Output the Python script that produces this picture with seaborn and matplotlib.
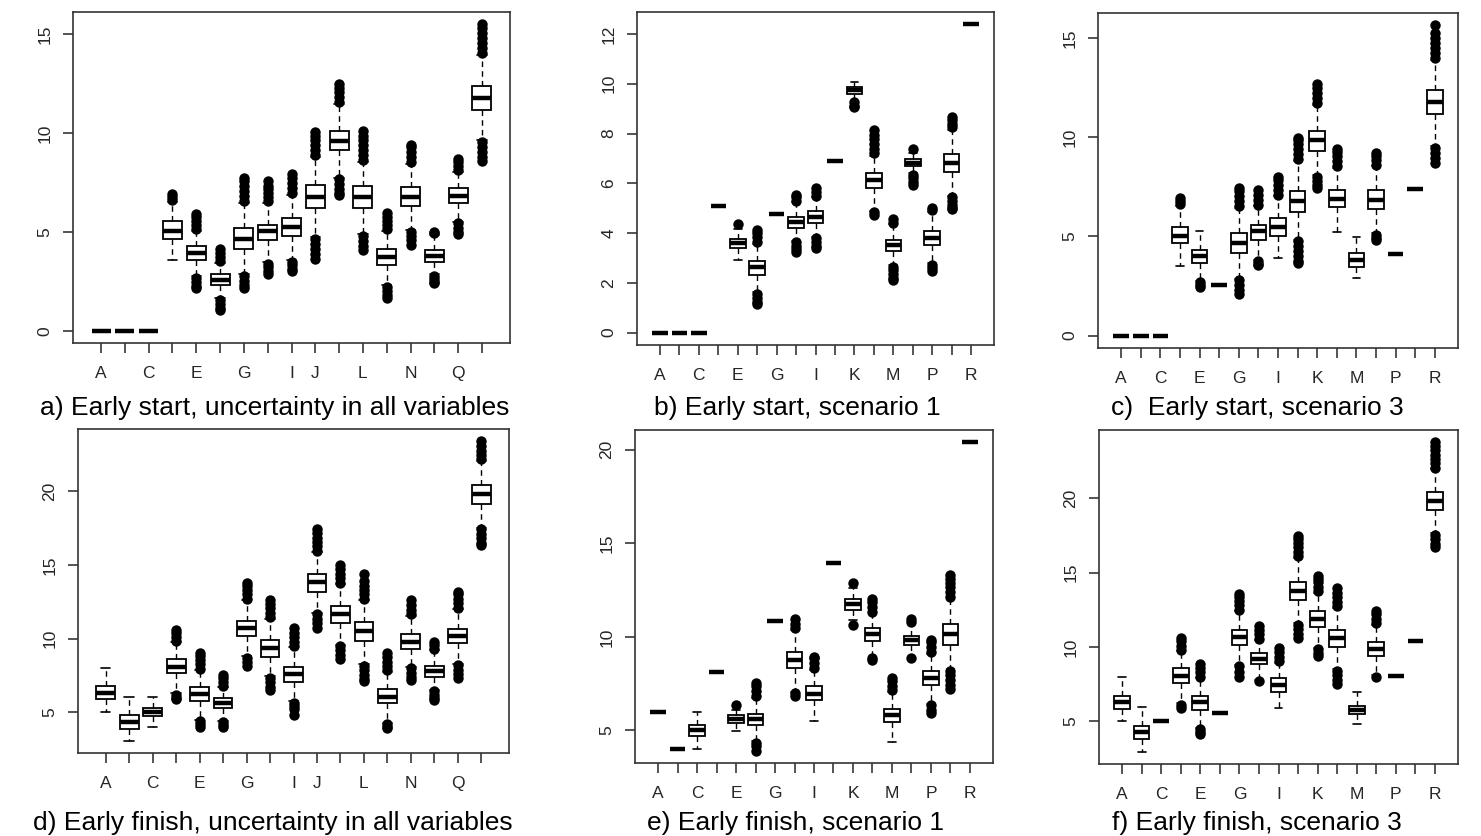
import numpy as np
import pandas as pd
import seaborn as sns
import matplotlib.pyplot as plt

tasks = list("ABCDEFGHIJKLMNPQR")

captions = ["a) Early start, uncertainty in all variables",
    "b) Early start, scenario 1",
    "c)  Early start, scenario 3",
    "d) Early finish, uncertainty in all variables",
    "e) Early finish, scenario 1",
    "f) Early finish, scenario 3"]

yticks_a = [0, 5, 10, 15]
yticks_b = [0, 2, 4, 6, 8, 10, 12]
yticks_c = [0, 5, 10, 15]
yticks_d = [5, 10, 15, 20]
yticks_e = [5, 10, 15, 20]
yticks_f = [5, 10, 15, 20]

# which task letters R managed to print under each panel
shown_all = ["A", "C", "E", "G", "I", "J", "L", "N", "Q"]
shown_scen = ["A", "C", "E", "G", "I", "K", "M", "P", "R"]

# (lower whisker, Q1, median, Q3, upper whisker) for each task
box_a = [(0, 0, 0, 0, 0), (0, 0, 0, 0, 0), (0, 0, 0, 0, 0),
    (3.56, 4.64, 5.06, 5.53, 6.5), (2.75, 3.56, 3.93, 4.28, 5.05),
    (1.65, 2.30, 2.59, 2.89, 3.45), (2.85, 4.14, 4.66, 5.19, 6.45),
    (3.5, 4.59, 5.03, 5.36, 6.45), (3.6, 4.81, 5.26, 5.70, 6.85),
    (4.75, 6.2, 6.76, 7.37, 8.8), (7.75, 9.12, 9.62, 10.1, 11.45),
    (4.9, 6.23, 6.76, 7.32, 8.55), (2.32, 3.34, 3.72, 4.11, 5.05),
    (5.1, 6.31, 6.76, 7.27, 8.45), (2.85, 3.47, 3.76, 4.06, 4.85),
    (5.5, 6.48, 6.81, 7.2, 8.05), (9.65, 11.16, 11.78, 12.38, 13.95)]
out_a = [[], [], [],
    [6.6, 6.75, 6.9],
    [5.15, 5.35, 5.55, 5.75, 5.9, 2.65, 2.45, 2.25, 2.15],
    [3.55, 3.75, 3.95, 4.15, 1.55, 1.35, 1.15, 1.05],
    [6.55, 6.8, 7.05, 7.3, 7.55, 7.7, 2.75, 2.5, 2.3, 2.15],
    [6.55, 6.75, 6.95, 7.15, 7.3, 7.57, 3.4, 3.2, 3.0, 2.85],
    [6.95, 7.2, 7.45, 7.7, 7.95, 3.5, 3.3, 3.1, 3.0],
    [8.9, 9.15, 9.4, 9.65, 9.85, 10.05, 4.65, 4.4, 4.15, 3.9, 3.65],
    [11.55, 11.8, 12.05, 12.3, 12.5, 7.65, 7.4, 7.15, 6.95, 6.85],
    [8.65, 8.9, 9.15, 9.4, 9.65, 9.85, 10.1, 4.8, 4.55, 4.3, 4.1],
    [5.15, 5.35, 5.55, 5.75, 5.95, 2.2, 2.0, 1.8, 1.65],
    [8.55, 8.8, 9.05, 9.3, 9.4, 5.0, 4.8, 4.6, 4.35],
    [4.95, 5.0, 2.75, 2.6, 2.45, 2.4],
    [8.15, 8.35, 8.55, 8.7, 5.45, 5.2, 5.0, 4.9],
    [14.05, 14.3, 14.55, 14.8, 15.05, 15.3, 15.5, 9.55, 9.3, 9.05, 8.8, 8.6]]

box_b = [(0, 0, 0, 0, 0), (0, 0, 0, 0, 0), (0, 0, 0, 0, 0),
    (5.08, 5.08, 5.08, 5.08, 5.08), (2.9, 3.41, 3.60, 3.78, 4.15),
    (1.65, 2.30, 2.63, 2.88, 3.55), (4.78, 4.78, 4.78, 4.78, 4.78),
    (3.7, 4.21, 4.45, 4.65, 5.25), (3.85, 4.42, 4.65, 4.89, 5.45),
    (6.91, 6.91, 6.91, 6.91, 6.91), (9.3, 9.58, 9.76, 9.87, 10.09),
    (4.9, 5.82, 6.13, 6.42, 7.1), (2.72, 3.27, 3.51, 3.74, 4.35),
    (6.42, 6.69, 6.83, 6.96, 7.2), (2.8, 3.51, 3.80, 4.09, 4.85),
    (5.5, 6.47, 6.83, 7.16, 8.15), (12.39, 12.39, 12.39, 12.39, 12.39)]
out_b = [[], [], [], [],
    [4.35],
    [3.65, 3.85, 4.0, 4.12, 1.55, 1.4, 1.25, 1.15],
    [],
    [5.3, 5.45, 5.52, 3.65, 3.5, 3.35, 3.25],
    [5.5, 5.65, 5.8, 3.8, 3.65, 3.5, 3.4],
    [],
    [9.25, 9.12, 9.05],
    [7.2, 7.4, 7.6, 7.8, 7.95, 8.15, 4.85, 4.72],
    [4.42, 4.55, 2.65, 2.5, 2.35, 2.2, 2.12],
    [7.4, 6.35, 6.2, 6.05, 5.95],
    [4.92, 5.02, 2.72, 2.58, 2.46],
    [8.25, 8.4, 8.55, 8.67, 5.45, 5.3, 5.15, 5.0, 4.95],
    []]

box_c = [(0, 0, 0, 0, 0), (0, 0, 0, 0, 0), (0, 0, 0, 0, 0),
    (3.50, 4.66, 5.04, 5.46, 6.55), (2.75, 3.67, 3.99, 4.32, 5.26),
    (2.57, 2.57, 2.57, 2.57, 2.57), (2.85, 4.15, 4.67, 5.18, 6.45),
    (3.8, 4.83, 5.26, 5.58, 6.55), (3.90, 5.04, 5.48, 5.92, 7.05),
    (4.8, 6.22, 6.79, 7.31, 8.8), (8.1, 9.33, 9.87, 10.34, 11.65),
    (5.21, 6.47, 6.91, 7.35, 8.45), (2.91, 3.48, 3.82, 4.15, 4.96),
    (5.15, 6.39, 6.86, 7.35, 8.55), (4.09, 4.09, 4.09, 4.09, 4.09),
    (7.37, 7.37, 7.37, 7.37, 7.37), (9.55, 11.18, 11.77, 12.36, 13.9)]
out_c = [[], [], [],
    [6.65, 6.8, 6.95],
    [2.68, 2.55, 2.47],
    [],
    [6.55, 6.8, 7.05, 7.3, 7.45, 2.78, 2.55, 2.3, 2.12],
    [6.6, 6.85, 7.1, 7.32, 3.75, 3.6, 3.55],
    [7.1, 7.35, 7.6, 7.85, 7.98],
    [8.9, 9.15, 9.4, 9.65, 9.85, 9.98, 4.75, 4.5, 4.25, 4.0, 3.75, 3.65],
    [11.75, 12.0, 12.25, 12.5, 12.68, 8.0, 7.8, 7.6, 7.45],
    [8.55, 8.8, 9.05, 9.25, 9.4],
    [],
    [8.62, 8.85, 9.05, 9.22, 5.08, 4.92, 4.82],
    [], [],
    [14.0, 14.25, 14.5, 14.75, 15.0, 15.25, 15.64, 9.45, 9.2, 8.95, 8.7]]

box_d = [(5.0, 5.88, 6.33, 6.81, 8.03), (3.06, 3.87, 4.32, 4.82, 6.06),
    (4.03, 4.75, 5.05, 5.32, 6.06), (6.3, 7.64, 8.09, 8.59, 9.75),
    (4.5, 5.79, 6.24, 6.74, 7.85), (4.4, 5.32, 5.61, 5.95, 6.72),
    (8.8, 10.2, 10.69, 11.21, 12.6), (7.45, 8.77, 9.34, 9.90, 11.35),
    (5.75, 7.08, 7.60, 8.09, 9.4), (11.75, 13.18, 13.81, 14.35, 15.85),
    (9.6, 11.08, 11.66, 12.23, 13.7), (8.25, 9.86, 10.51, 11.1, 12.6),
    (4.3, 5.61, 6.06, 6.56, 7.75), (8.1, 9.27, 9.79, 10.29, 11.55),
    (6.55, 7.42, 7.80, 8.16, 9.2), (8.3, 9.68, 10.17, 10.65, 12.0),
    (17.5, 19.16, 19.80, 20.41, 22.05)]
out_d = [[], [], [],
    [9.85, 10.1, 10.35, 10.6, 6.2, 5.95, 5.88],
    [7.95, 8.25, 8.55, 8.8, 9.04, 4.42, 4.2, 4.03],
    [6.8, 7.05, 7.3, 7.53, 4.32, 4.15, 4.03],
    [12.7, 13.0, 13.3, 13.55, 13.74, 8.7, 8.4, 8.15],
    [11.45, 11.75, 12.05, 12.35, 12.6, 7.35, 7.05, 6.75, 6.55],
    [9.5, 9.8, 10.1, 10.4, 10.7, 5.65, 5.4, 5.2, 4.82],
    [15.95, 16.25, 16.55, 16.85, 17.15, 17.4, 11.65, 11.35, 11.05, 10.75],
    [13.8, 14.1, 14.4, 14.7, 14.98, 9.5, 9.2, 8.9, 8.6],
    [12.7, 13.0, 13.3, 13.6, 13.9, 14.35, 8.15, 7.85, 7.55, 7.25, 7.1],
    [7.85, 8.15, 8.45, 8.75, 9.0, 4.2, 4.0, 3.92],
    [11.65, 11.95, 12.25, 12.6, 8.0, 7.7, 7.4, 7.2],
    [9.3, 9.55, 9.75, 6.45, 6.2, 5.95, 5.85],
    [12.1, 12.4, 12.7, 13.0, 13.15, 8.2, 7.9, 7.6, 7.35],
    [22.15, 22.45, 22.75, 23.05, 23.4, 17.4, 17.1, 16.8, 16.5, 16.35]]

box_e = [(5.98, 5.98, 5.98, 5.98, 5.98), (4.0, 4.0, 4.0, 4.0, 4.0),
    (4.0, 4.71, 5.0, 5.27, 5.96), (8.11, 8.11, 8.11, 8.11, 8.11),
    (4.95, 5.39, 5.61, 5.80, 6.1), (4.45, 5.30, 5.61, 5.89, 6.75),
    (10.84, 10.84, 10.84, 10.84, 10.84), (7.05, 8.34, 8.75, 9.2, 10.35),
    (5.52, 6.61, 6.96, 7.36, 8.25), (13.93, 13.93, 13.93, 13.93, 13.93),
    (10.9, 11.46, 11.77, 12.04, 12.6), (8.95, 9.80, 10.16, 10.48, 11.25),
    (4.38, 5.45, 5.84, 6.14, 7.05), (8.95, 9.55, 9.82, 10.04, 10.7),
    (6.4, 7.41, 7.80, 8.16, 9.1), (8.3, 9.59, 10.16, 10.66, 12.05),
    (20.39, 20.39, 20.39, 20.39, 20.39)]
out_e = [[], [], [], [],
    [6.38],
    [6.85, 7.1, 7.35, 7.52, 4.35, 4.15, 3.92],
    [],
    [10.45, 10.7, 10.95, 7.0, 6.85],
    [8.35, 8.6, 8.85, 8.95],
    [],
    [12.89, 10.61],
    [11.35, 11.6, 11.85, 12.0, 8.85, 8.75],
    [7.15, 7.4, 7.65, 7.8],
    [10.78, 10.93, 8.88],
    [9.2, 9.45, 9.7, 9.82, 6.35, 6.1, 5.93],
    [12.15, 12.4, 12.65, 12.9, 13.1, 13.28, 8.2, 7.95, 7.7, 7.45, 7.2],
    []]

box_f = [(5.0, 5.83, 6.28, 6.73, 7.96), (2.96, 3.81, 4.26, 4.71, 5.99),
    (5.0, 5.0, 5.0, 5.0, 5.0), (6.2, 7.58, 8.07, 8.56, 9.7),
    (4.55, 5.78, 6.32, 6.73, 7.9), (5.56, 5.56, 5.56, 5.56, 5.56),
    (8.8, 10.13, 10.65, 11.17, 12.4), (7.8, 8.86, 9.22, 9.57, 10.45),
    (5.87, 6.99, 7.44, 7.91, 8.95), (11.6, 13.18, 13.79, 14.35, 16.0),
    (9.95, 11.37, 11.91, 12.4, 13.65), (8.5, 9.98, 10.58, 11.17, 12.65),
    (4.82, 5.49, 5.76, 6.05, 6.95), (8.1, 9.42, 9.87, 10.31, 11.5),
    (8.03, 8.03, 8.03, 8.03, 8.03), (10.38, 10.38, 10.38, 10.38, 10.38),
    (17.65, 19.22, 19.84, 20.4, 21.95)]
out_f = [[], [], [],
    [9.8, 10.1, 10.4, 10.62, 6.12, 5.9],
    [8.0, 8.3, 8.6, 8.88, 4.45, 4.25, 4.15],
    [],
    [12.5, 12.8, 13.1, 13.35, 13.58, 8.7, 8.35, 8.0],
    [10.55, 10.85, 11.15, 11.4, 7.69],
    [9.05, 9.35, 9.65, 9.95],
    [16.1, 16.4, 16.7, 17.0, 17.25, 17.45, 11.5, 11.2, 10.9, 10.6],
    [13.75, 14.05, 14.35, 14.6, 14.78, 9.85, 9.6, 9.42],
    [12.75, 13.05, 13.35, 13.65, 13.95, 8.4, 8.1, 7.8, 7.5],
    [],
    [11.6, 11.9, 12.2, 12.42, 7.96],
    [], [],
    [22.05, 22.35, 22.65, 22.95, 23.25, 23.5, 23.77, 17.55, 17.25, 16.95, 16.7]]


def make_frames(box, out):
    rows = []
    pts = []
    for task, five, extra in zip(tasks, box, out):
        rows += [(task, v) for v in five]
        pts += [(task, v) for v in extra]
    return (pd.DataFrame(rows, columns=["task", "value"]),
            pd.DataFrame(pts, columns=["task", "value"]))


sns.set_style("ticks")
plt.rcParams["font.family"] = ["Liberation Sans", "DejaVu Sans"]

W, H = 1481, 836
fig = plt.figure(figsize=(W / 100, H / 100), dpi=100)

# frame corners in pixels: left, right, top, bottom
frames_px = [(73, 510, 12, 343), (637, 994, 12, 345), (1098, 1458, 13, 348),
    (78, 509, 429, 753), (635, 993, 430, 763), (1099, 1458, 430, 764)]
caption_px = [(275, 408), (797, 408), (1257, 408),
    (273, 823), (795, 823), (1257, 823)]

panels = [(box_a, out_a, yticks_a, shown_all), (box_b, out_b, yticks_b, shown_scen),
    (box_c, out_c, yticks_c, shown_scen), (box_d, out_d, yticks_d, shown_all),
    (box_e, out_e, yticks_e, shown_scen), (box_f, out_f, yticks_f, shown_scen)]

for i, (box, out, yticks, shown) in enumerate(panels):
    l, r, t, b = frames_px[i]
    ax = fig.add_axes([l / W, 1 - b / H, (r - l) / W, (b - t) / H])
    df_box, df_out = make_frames(box, out)

    sns.boxplot(data=df_box, x="task", y="value", order=tasks, whis=(0, 100),
        showfliers=False, width=0.8, color="white", linecolor="black",
        linewidth=1.3, ax=ax,
        boxprops=dict(facecolor="white", edgecolor="black", linewidth=1.3),
        medianprops=dict(color="black", linewidth=3.2, solid_capstyle="butt"),
        whiskerprops=dict(color="black", linewidth=1.0, linestyle=(0, (4, 3))),
        capprops=dict(color="black", linewidth=1.2))
    if len(df_out):
        sns.stripplot(data=df_out, x="task", y="value", order=tasks, jitter=False,
            color="black", size=7.5, ax=ax, zorder=3)

    # R style limits: 4% padding round the data
    allv = np.concatenate([df_box["value"].values, df_out["value"].values])
    lo, hi = allv.min(), allv.max()
    pad = 0.04 * (hi - lo)
    ax.set_ylim(lo - pad, hi + pad)
    ax.set_xlim(-1.18, len(tasks) + 0.18)

    ax.set_xticks(range(len(tasks)))
    ax.set_xticklabels([t if t in shown else "" for t in tasks])
    ax.set_yticks(yticks)
    ax.set_yticklabels([str(v) for v in yticks])
    ax.set_xlabel("")
    ax.set_ylabel("")
    ax.tick_params(axis="both", direction="out", length=7.5, width=1.1,
        colors="#262626", labelsize=12.5)
    ax.tick_params(axis="x", pad=9)
    ax.tick_params(axis="y", labelrotation=90, pad=7.5)
    for lbl in ax.get_yticklabels():
        lbl.set_va("center")
    for sp in ax.spines.values():
        sp.set_visible(True)
        sp.set_color("#333333")
        sp.set_linewidth(1.2)

    cx, cy = caption_px[i]
    fig.text(cx / W, 1 - cy / H, captions[i], ha="center", va="center",
        fontsize=19, color="black")

fig.savefig("out.png", dpi=100)
